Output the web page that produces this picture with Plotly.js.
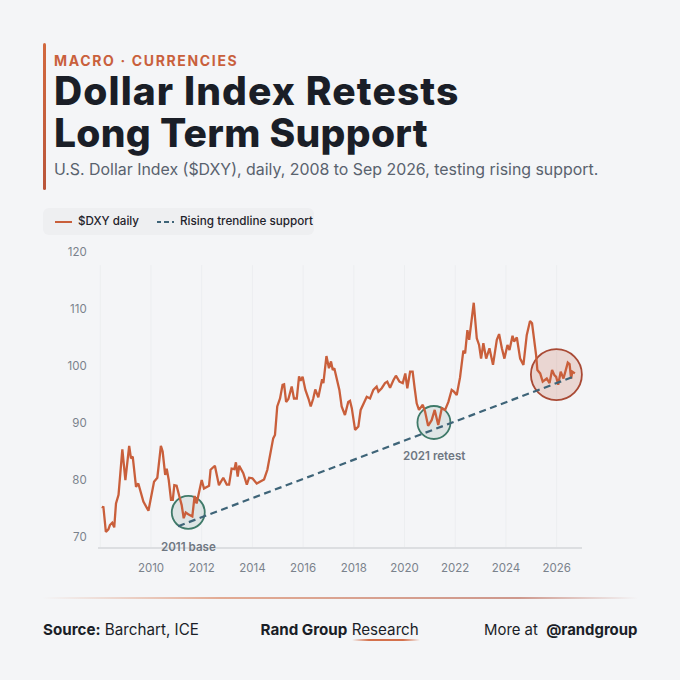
<!DOCTYPE html>
<html><head><meta charset="utf-8">
<script src="https://cdn.plot.ly/plotly-3.0.1.min.js"></script>
<style>
html,body{margin:0;padding:0;background:#f4f5f7;width:680px;height:680px;overflow:hidden;font-family:Inter,sans-serif}
#chart{position:absolute;left:0;top:0;width:680px;height:680px}
.abs{position:absolute;white-space:nowrap}
.ttl{font-size:39px;font-weight:800;color:#1a1e27;line-height:34px;height:34px}
</style></head><body>
<div id="chart"></div>
<div class="abs" style="left:43px;top:43px;width:2.5px;height:147px;background:linear-gradient(#d2693f,#b9553a);border-radius:2px"></div>
<div class="abs" style="left:54px;top:52px;font-size:14px;font-weight:700;letter-spacing:1.65px;color:#c9603c;line-height:17px">MACRO · CURRENCIES</div>
<div class="abs ttl" style="left:54px;top:74px;letter-spacing:1.1px">Dollar Index Retests</div>
<div class="abs ttl" style="left:54px;top:116px;letter-spacing:0.3px">Long Term Support</div>
<div class="abs" style="left:54px;top:159px;font-size:15.9px;font-weight:400;color:#59626e;line-height:22px">U.S. Dollar Index ($DXY), daily, 2008 to Sep 2026, testing rising support.</div>
<div class="abs" style="left:43px;top:208px;width:271px;height:27px;background:#eeeff1;border-radius:6px"></div>
<div class="abs" style="left:55px;top:220.5px;width:17px;height:2px;background:#c95f3b"></div>
<div class="abs" style="left:78px;top:214px;font-size:11.6px;font-weight:500;color:#1f232b;line-height:15px">$DXY daily</div>
<div class="abs" style="left:157px;top:220.5px;width:17px;height:2px;background:repeating-linear-gradient(90deg,#3e6478 0 4.5px,transparent 4.5px 7.5px)"></div>
<div class="abs" style="left:180px;top:214px;font-size:11.7px;font-weight:500;color:#1f232b;line-height:15px">Rising trendline support</div>
<div class="abs" style="left:42px;top:597px;width:596px;height:1.5px;background:linear-gradient(90deg,rgba(214,120,80,0),rgba(214,120,80,.6) 30%,rgba(180,90,70,.6) 80%,rgba(180,90,70,0))"></div>
<div class="abs" style="left:43px;top:621px;font-size:15.2px;color:#1a1e27;line-height:18px"><b style="font-weight:700">Source:</b>&nbsp;Barchart, ICE</div>
<div class="abs" style="left:260.5px;top:621px;font-size:15.2px;color:#1a1e27;line-height:18px"><b style="font-weight:700">Rand Group</b> Research</div>
<div class="abs" style="left:352px;top:639px;width:68px;height:2px;border-radius:2px;background:linear-gradient(90deg,rgba(214,110,70,0),#d4714c 25%,#d4714c 75%,rgba(214,110,70,0))"></div>
<div class="abs" style="left:484px;top:621px;font-size:14.9px;color:#1a1e27;line-height:18px">More at&nbsp;&nbsp;<b style="font-weight:700">@randgroup</b></div>
<script>
const dxyYears=[2008.08,2008.12,2008.16,2008.22,2008.32,2008.38,2008.47,2008.55,2008.62,2008.72,2008.87,2008.99,2009.14,2009.21,2009.28,2009.41,2009.5,2009.61,2009.7,2009.9,2009.99,2010.12,2010.25,2010.39,2010.46,2010.56,2010.62,2010.7,2010.79,2010.86,2010.92,2011.01,2011.12,2011.21,2011.29,2011.37,2011.47,2011.63,2011.72,2011.8,2012.0,2012.09,2012.29,2012.35,2012.52,2012.68,2012.85,2012.99,2013.08,2013.18,2013.29,2013.35,2013.42,2013.48,2013.64,2013.78,2013.87,2014.0,2014.17,2014.3,2014.46,2014.59,2014.72,2014.82,2014.89,2014.98,2015.09,2015.19,2015.25,2015.33,2015.42,2015.55,2015.64,2015.75,2015.84,2015.9,2015.98,2016.09,2016.21,2016.3,2016.4,2016.48,2016.6,2016.75,2016.8,2016.92,2017.02,2017.1,2017.17,2017.23,2017.43,2017.52,2017.65,2017.78,2017.85,2017.92,2018.05,2018.18,2018.27,2018.51,2018.64,2018.77,2018.9,2018.97,2019.1,2019.23,2019.32,2019.43,2019.56,2019.66,2019.8,2019.93,2020.03,2020.11,2020.22,2020.32,2020.4,2020.48,2020.57,2020.72,2020.81,2020.93,2021.07,2021.19,2021.33,2021.47,2021.6,2021.73,2021.86,2021.95,2022.06,2022.19,2022.32,2022.39,2022.48,2022.55,2022.73,2022.85,2022.94,2023.02,2023.11,2023.22,2023.35,2023.49,2023.64,2023.73,2023.84,2023.94,2024.06,2024.14,2024.26,2024.32,2024.43,2024.56,2024.69,2024.82,2024.95,2025.03,2025.19,2025.24,2025.35,2025.45,2025.61,2025.72,2025.82,2025.91,2025.98,2026.06,2026.16,2026.27,2026.44,2026.51,2026.57,2026.62,2026.72];
const dxyValues=[75.0,75.4,73.6,70.9,71.35,72.1,72.5,71.7,75.9,77.4,85.4,80,86,83.8,84.1,78.8,79.4,77.7,76.2,74.6,76.8,79.7,80.4,86,85,80.9,82,80,76.5,76.5,79.1,79,77.1,75.6,73.3,74.3,74,73.6,77.2,75.9,80,78.5,79,81.8,82.5,79.1,80.4,79.2,79.2,82,81.9,83.1,80.6,82.5,81.2,79.2,80.4,80.3,79.4,79.7,80.1,81.8,85,87.3,87.9,92.9,94.3,96.7,96.8,93.7,94.2,96.4,94.3,94.3,98.2,97.4,98.1,95.8,94.3,92.9,94.3,95.9,94.5,97.7,97,101.75,99.6,100.8,99.3,99.6,95.8,92.9,91.4,93.7,93.9,92.6,88.8,89.4,92.3,94.6,94.3,95.8,96.4,95.5,96.1,97,97.25,96.2,97.5,98.3,97.25,97,98.7,96.1,99,99,96.1,93.45,92.3,93.2,92,89.5,90.5,92.3,89.65,92.6,92.3,93.7,95.8,95.5,94.9,98,102.7,102.2,106.3,104.6,111.1,104.85,103.7,101.3,104,101.3,103.1,100.2,104.6,105.6,103.1,101.3,103.7,102.8,105.3,104.3,105,101.3,100.2,105.4,107.9,107.5,101.9,99.3,98.7,97.25,97.8,97,99.3,98.4,98.1,96.7,99,97.8,100.6,100.35,97.8,99,98.7];
const trendYears=[2011.07,2026.65];
const trendValues=[71.9,98.1];
const circleYears=[2011.47,2021.16,2025.99];
const circleValues=[74.33,90.09,98.5];
const circleSizes=[33,33,51];
const circleFills=['rgba(62,116,100,0.12)','rgba(62,116,100,0.12)','rgba(190,78,52,0.19)'];
const circleEdges=['#3f7a69','#3f7a69','#a94a35'];
const noteYears=[2011.47,2021.17];
const noteValues=[68.25,84.2];
const noteLabels=['2011 base','2021 retest'];
const xTicks=[2010,2012,2014,2016,2018,2020,2022,2024,2026];
const xGrid=[2008,2010,2012,2014,2016,2018,2020,2022,2024,2026];
const yTicks=[70,80,90,100,110,120];
const yBottom=68.25, gridTop=117.7;

const traces=[
 {x:circleYears,y:circleValues,mode:'markers',showlegend:false,hoverinfo:'skip',cliponaxis:false,
  marker:{size:circleSizes,opacity:1,color:circleFills,line:{color:circleEdges,width:1.8}}},
 {x:dxyYears,y:dxyValues,mode:'lines',name:'$DXY daily',line:{color:'#c95f3b',width:2.3}},
 {x:trendYears,y:trendValues,mode:'lines',name:'Rising trendline support',line:{color:'#3e6478',width:2.2,dash:'7px,4.5px'}}
];
const layout={
 width:680,height:680,margin:{l:98,r:98,t:252,b:133,pad:0},
 paper_bgcolor:'rgba(0,0,0,0)',plot_bgcolor:'rgba(0,0,0,0)',
 font:{family:'Inter',color:'#7a828c',size:12},showlegend:false,
 xaxis:{range:[2007.91,2027],tickmode:'array',tickvals:xTicks,showgrid:false,zeroline:false,
   showline:true,linecolor:'#dcdee1',linewidth:2,ticks:'outside',ticklen:9,tickcolor:'rgba(0,0,0,0)',tickfont:{size:11.5,color:'#7a828c'}},
 yaxis:{range:[yBottom,120],tickmode:'array',tickvals:yTicks,showgrid:false,zeroline:false,showline:false,ticks:'outside',ticklen:8,tickcolor:'rgba(0,0,0,0)',tickfont:{size:11.5,color:'#7a828c'}},
 shapes:xGrid.map(g=>({type:'line',xref:'x',yref:'y',x0:g,x1:g,y0:yBottom,y1:gridTop,layer:'below',line:{color:'#eceef0',width:1}})),
 annotations:noteLabels.map((t,i)=>({text:t,x:noteYears[i],y:noteValues[i],xref:'x',yref:'y',showarrow:false,xanchor:'center',yanchor:'middle',
   font:{family:'Inter',size:11.6,color:'#6f7782',weight:600}}))
};
Plotly.newPlot('chart',traces,layout,{displayModeBar:false,staticPlot:true});
</script>
</body></html>
